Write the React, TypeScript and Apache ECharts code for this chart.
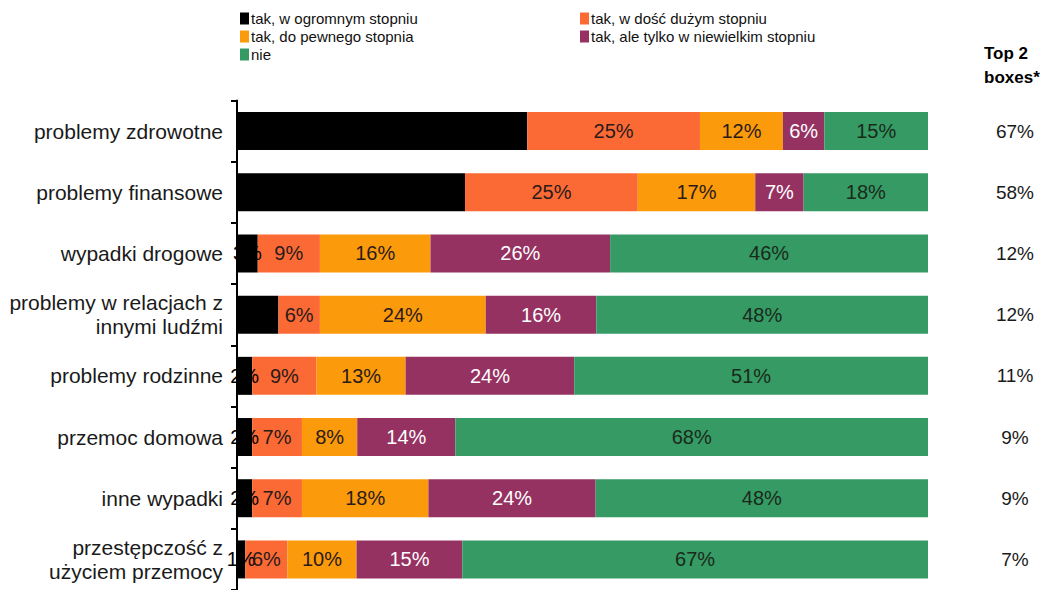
import React, { useEffect, useRef } from "react";
import * as echarts from "echarts";

const categories = [
  "problemy zdrowotne",
  "problemy finansowe",
  "wypadki drogowe",
  "problemy w relacjach z\ninnymi ludźmi",
  "problemy rodzinne",
  "przemoc domowa",
  "inne wypadki",
  "przestępczość z\nużyciem przemocy",
];

const seriesNames = [
  "tak, w ogromnym stopniu",
  "tak, w dość dużym stopniu",
  "tak, do pewnego stopnia",
  "tak, ale tylko w niewielkim stopniu",
  "nie",
];

const ogromnym = [42, 33, 3, 6, 2.2, 2.2, 2.2, 1.2];
const doscDuzym = [25, 25, 9, 6, 9.3, 7.2, 7.2, 6.1];
const doPewnego = [12, 17, 16, 24, 12.9, 8.0, 18.3, 10.0];
const niewielkim = [6, 7, 26, 16, 24.4, 14.2, 24.2, 15.3];
const nie = [15, 18, 46, 48, 51.2, 68.4, 48.1, 67.4];

const top2 = ["67%", "58%", "12%", "12%", "11%", "9%", "9%", "7%"];

const colors = ["#000000", "#fb6a35", "#fb9a0a", "#953262", "#359a64"];
const labelColors = ["#000000", "#2a1a1a", "#2a1a1a", "#ffffff", "#1a2a1a"];

const FONT = "'Liberation Sans', Arial, sans-serif";

export default function App() {
  const ref = useRef<HTMLDivElement>(null);
  useEffect(() => {
    if (!ref.current) return;
    const chart = echarts.init(ref.current, undefined, { renderer: "svg" });
    const values = [ogromnym, doscDuzym, doPewnego, niewielkim, nie];
    const series = values.map((data, i) => ({
      name: seriesNames[i],
      type: "bar",
      stack: "total",
      data,
      barWidth: 38,
      itemStyle: { color: colors[i] },
      label: {
        show: true,
        position: "inside",
        formatter: (p: any) => Math.round(p.value) + "%",
        color: labelColors[i],
        fontSize: 20,
        fontFamily: FONT,
      },
    }));
    const legendText = { fontSize: 15, color: "#111", fontFamily: FONT, padding: [0, 0, 0, -3] };
    chart.setOption({
      animation: false,
      backgroundColor: "#ffffff",
      textStyle: { fontFamily: FONT },
      legend: [
        {
          data: [seriesNames[0], seriesNames[2], seriesNames[4]],
          orient: "vertical",
          left: 235,
          top: 6,
          itemWidth: 9,
          itemHeight: 12,
          itemGap: 3,
          icon: "rect",
          selectedMode: false,
          textStyle: legendText,
        },
        {
          data: [seriesNames[1], seriesNames[3]],
          orient: "vertical",
          left: 575,
          top: 6,
          itemWidth: 9,
          itemHeight: 12,
          itemGap: 3,
          icon: "rect",
          selectedMode: false,
          textStyle: legendText,
        },
      ],
      graphic: [
        {
          type: "text",
          left: 984,
          top: 41,
          style: {
            text: "Top 2\nboxes*",
            font: `bold 17px ${FONT}`,
            fill: "#000",
            align: "center",
            lineHeight: 24,
          },
        },
      ],
      grid: { left: 237, right: 125, top: 100.5, bottom: -2.5, containLabel: false },
      xAxis: { type: "value", min: 0, max: 100, show: false },
      yAxis: [
        {
          type: "category",
          inverse: true,
          data: categories,
          axisLine: { show: true, lineStyle: { color: "#000", width: 2 } },
          axisTick: { show: true, length: 6, lineStyle: { color: "#000", width: 2 } },
          axisLabel: {
            color: "#1a1a1a",
            fontSize: 21,
            fontFamily: FONT,
            margin: 14,
            align: "right",
            lineHeight: 24,
          },
        },
        {
          type: "category",
          inverse: true,
          position: "right",
          data: top2,
          axisLine: { show: false },
          axisTick: { show: false },
          axisLabel: {
            color: "#1a1a1a",
            fontSize: 19,
            fontFamily: FONT,
            margin: 87,
            align: "center",
          },
        },
      ],
      series,
    });
    return () => chart.dispose();
  }, []);
  return (
    <div
      ref={ref}
      style={{ position: "fixed", left: 0, top: 0, width: 1053, height: 590 }}
    />
  );
}
